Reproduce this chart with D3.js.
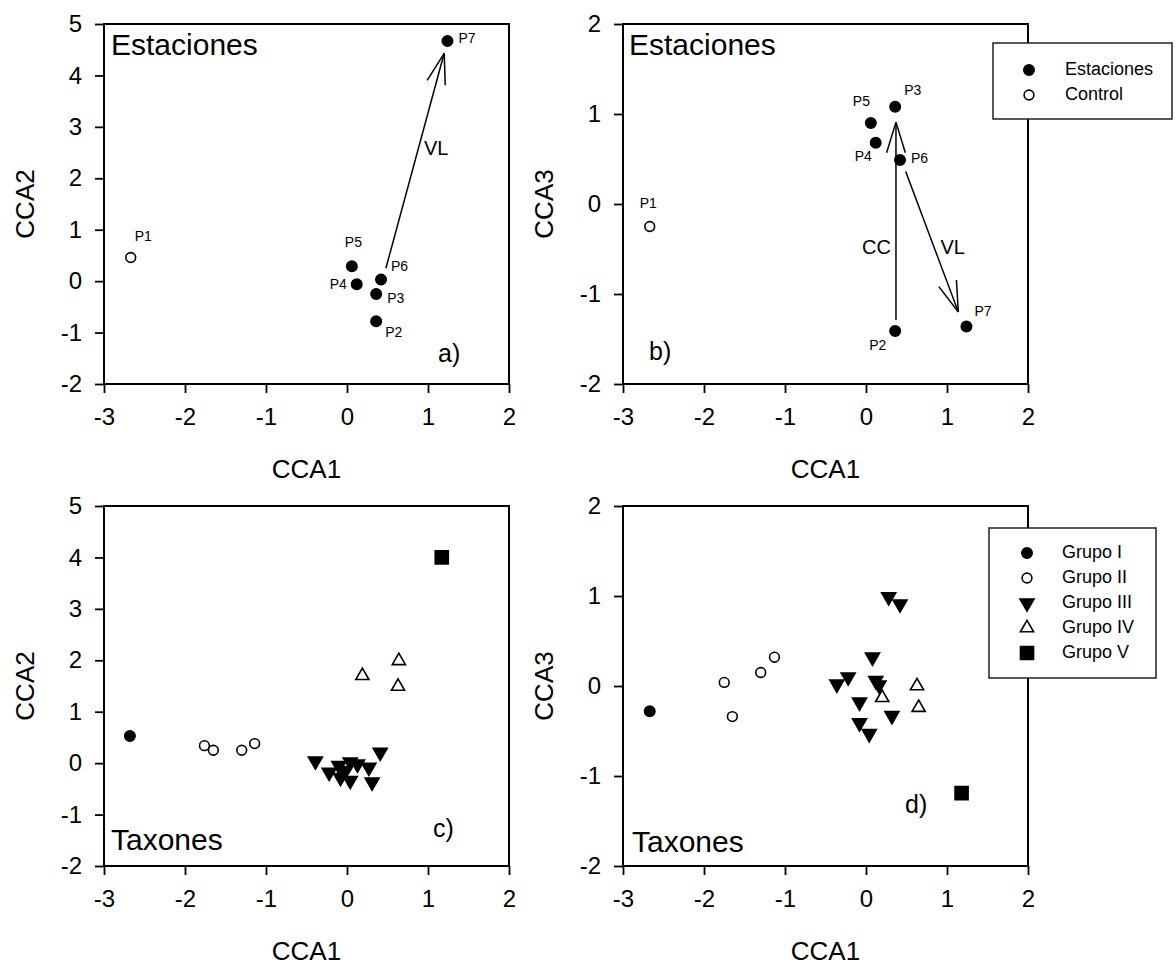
<!DOCTYPE html>
<html>
<head>
<meta charset="utf-8">
<script src="https://cdn.jsdelivr.net/npm/d3@7"></script>
<style>
  body { margin: 0; background: #fff; }
  text { font-family: Arial, "Liberation Sans", sans-serif; fill: #000; }
</style>
</head>
<body>
<svg width="1176" height="968"></svg>
<script>
// stations
const stationNames = ["P1", "P2", "P3", "P4", "P5", "P6", "P7"]
const stationKind = ["Control", "Estaciones", "Estaciones", "Estaciones", "Estaciones", "Estaciones", "Estaciones"]
const stationCCA1 = [-2.67, 0.36, 0.36, 0.12, 0.06, 0.42, 1.24]
const stationCCA2 = [0.46, -0.78, -0.25, -0.06, 0.29, 0.03, 4.67]
const stationCCA3 = [-0.25, -1.41, 1.08, 0.68, 0.90, 0.49, -1.36]

// environmental arrows [name, fromX, fromY, toX, toY]
const arrowsCCA2 = [["VL", 0.48, 0.25, 1.20, 4.43]]
const arrowsCCA3 = [["CC", 0.37, -1.29, 0.37, 0.91], ["VL", 0.49, 0.36, 1.14, -1.20]]

// taxa groups
const groupNames = ["Grupo I", "Grupo II", "Grupo III", "Grupo IV", "Grupo V"]
const taxaCCA2 = [
  [[-2.68, 0.53]],
  [[-1.76, 0.34], [-1.65, 0.25], [-1.30, 0.25], [-1.14, 0.38]],
  [[-0.39, 0.04], [-0.22, -0.18], [-0.10, -0.05], [-0.08, -0.28], [0.04, -0.34], [0.04, 0.02],
   [0.13, -0.02], [0.27, -0.08], [0.31, -0.37], [0.41, 0.21], [-0.02, -0.15]],
  [[0.19, 1.70], [0.64, 1.99], [0.63, 1.49]],
  [[1.17, 4.0]]
]
const taxaCCA3 = [
  [[-2.67, -0.28]],
  [[-1.75, 0.04], [-1.65, -0.34], [-1.30, 0.15], [-1.13, 0.32]],
  [[0.28, 0.99], [0.42, 0.91], [0.08, 0.32], [-0.22, 0.10], [-0.36, 0.02], [0.12, 0.06],
   [0.16, 0.01], [-0.08, -0.18], [0.32, -0.33], [-0.08, -0.41], [0.04, -0.53]],
  [[0.20, -0.13], [0.63, 0.0], [0.65, -0.24]],
  [[1.18, -1.19]]
]

const xTicks = [-3, -2, -1, 0, 1, 2]
const cca2Ticks = [-2, -1, 0, 1, 2, 3, 4, 5]
const cca3Ticks = [-2, -1, 0, 1, 2]

// label offsets (px, relative to marker)
const labelOffsetA = [[4, -20], [9, 12], [11, 5], [-27, 1], [-7, -23], [10, -12], [11, -2]]
const labelOffsetB = [[-10, -22], [-26, 15], [9, -16], [-21, 14], [-18, -21], [11, -1], [8, -14]]

const svg = d3.select("svg")
const PW = 405, PH = 360

const markerStyles = [
  { type: d3.symbolCircle, size: 85, fill: "#000", rot: 0 },
  { type: d3.symbolCircle, size: 75, fill: "#fff", rot: 0 },
  { type: d3.symbolTriangle, size: 85, fill: "#000", rot: 180 },
  { type: d3.symbolTriangle, size: 75, fill: "#fff", rot: 0 },
  { type: d3.symbolSquare, size: 170, fill: "#000", rot: 0 }
]

const drawMarker = (g, style, x, y) => {
  g.append("path")
    .attr("d", d3.symbol().type(style.type).size(style.size)())
    .attr("transform", `translate(${x},${y}) rotate(${style.rot})`)
    .attr("fill", style.fill)
    .attr("stroke", "#000")
    .attr("stroke-width", 1.6)
}

const tickFmt = (d) => String(d)

const makePanel = (left, top, yDomain, yTicks, yTitle) => {
  const g = svg.append("g").attr("transform", `translate(${left},${top})`)
  const x = d3.scaleLinear().domain([-3, 2]).range([0, PW])
  const y = d3.scaleLinear().domain(yDomain).range([PH, 0])

  const xAxis = g.append("g").attr("transform", `translate(0,${PH})`)
    .call(d3.axisBottom(x).tickValues(xTicks).tickFormat(tickFmt)
      .tickSize(9).tickSizeOuter(0).tickPadding(15))
  const yAxis = g.append("g")
    .call(d3.axisLeft(y).tickValues(yTicks).tickFormat(tickFmt)
      .tickSize(9).tickSizeOuter(0).tickPadding(13))
  ;[xAxis, yAxis].forEach((a) => {
    a.select(".domain").remove()
    a.selectAll("line").attr("stroke", "#000").attr("stroke-width", 1.8)
    a.selectAll("text").style("font-size", "24px").attr("fill", "#000")
  })

  g.append("rect").attr("width", PW).attr("height", PH)
    .attr("fill", "none").attr("stroke", "#000").attr("stroke-width", 2)

  g.append("text").attr("x", PW / 2).attr("y", PH + 94)
    .attr("text-anchor", "middle").style("font-size", "26px").text("CCA1")
  g.append("text").attr("transform", `translate(-70,${PH / 2}) rotate(-90)`)
    .attr("text-anchor", "middle").style("font-size", "26px").text(yTitle)
  return { g, x, y }
}

const drawArrow = (g, x1, y1, x2, y2) => {
  g.append("line").attr("x1", x1).attr("y1", y1).attr("x2", x2).attr("y2", y2)
    .attr("stroke", "#000").attr("stroke-width", 1.5)
  const ang = Math.atan2(y1 - y2, x1 - x2)
  const len = 32, spread = 17 * Math.PI / 180
  ;[-spread, spread].forEach((s) => {
    g.append("line").attr("x1", x2).attr("y1", y2)
      .attr("x2", x2 + len * Math.cos(ang + s)).attr("y2", y2 + len * Math.sin(ang + s))
      .attr("stroke", "#000").attr("stroke-width", 1.5)
  })
}

const drawStations = (panel, yValues, arrows, offsets) => {
  const { g, x, y } = panel
  arrows.forEach(([name, fx, fy, tx, ty]) => {
    drawArrow(g, x(fx), y(fy), x(tx), y(ty))
  })
  stationNames.forEach((name, i) => {
    const style = stationKind[i] === "Control" ? markerStyles[1] : markerStyles[0]
    const px = x(stationCCA1[i]), py = y(yValues[i])
    drawMarker(g, style, px, py)
    g.append("text").attr("x", px + offsets[i][0]).attr("y", py + offsets[i][1])
      .attr("dominant-baseline", "middle").style("font-size", "14px").text(name)
  })
}

const drawTaxa = (panel, groups) => {
  const { g, x, y } = panel
  groups.forEach((pts, gi) => {
    pts.forEach(([cx, cy]) => drawMarker(g, markerStyles[gi], x(cx), y(cy)))
  })
}

// a)
const pa = makePanel(104, 24, [-2, 5], cca2Ticks, "CCA2")
drawStations(pa, stationCCA2, arrowsCCA2, labelOffsetA)
pa.g.append("text").attr("x", 7).attr("y", 31).style("font-size", "30px").text("Estaciones")
pa.g.append("text").attr("x", 334).attr("y", 338).style("font-size", "25px").text("a)")
pa.g.append("text").attr("x", pa.x(0.95)).attr("y", pa.y(2.45)).style("font-size", "20px").text("VL")

// b)
const pb = makePanel(623, 24, [-2, 2], cca3Ticks, "CCA3")
drawStations(pb, stationCCA3, arrowsCCA3, labelOffsetB)
pb.g.append("text").attr("x", 6).attr("y", 31).style("font-size", "30px").text("Estaciones")
pb.g.append("text").attr("x", 26).attr("y", 336).style("font-size", "25px").text("b)")
pb.g.append("text").attr("x", pb.x(-0.05)).attr("y", pb.y(-0.55)).style("font-size", "20px").text("CC")
pb.g.append("text").attr("x", pb.x(0.92)).attr("y", pb.y(-0.55)).style("font-size", "20px").text("VL")

// c)
const pc = makePanel(104, 506, [-2, 5], cca2Ticks, "CCA2")
drawTaxa(pc, taxaCCA2)
pc.g.append("text").attr("x", 7).attr("y", 344).style("font-size", "30px").text("Taxones")
pc.g.append("text").attr("x", 329).attr("y", 331).style("font-size", "25px").text("c)")

// d)
const pd = makePanel(623, 506, [-2, 2], cca3Ticks, "CCA3")
drawTaxa(pd, taxaCCA3)
pd.g.append("text").attr("x", 9).attr("y", 346).style("font-size", "30px").text("Taxones")
pd.g.append("text").attr("x", 282).attr("y", 307).style("font-size", "25px").text("d)")

// legends
const drawLegend = (left, top, w, h, items, styles, y0, step, symX, textX) => {
  const lg = svg.append("g").attr("transform", `translate(${left},${top})`)
  lg.append("rect").attr("width", w).attr("height", h)
    .attr("fill", "#fff").attr("stroke", "#222").attr("stroke-width", 1.5)
  items.forEach((name, i) => {
    drawMarker(lg, styles[i], symX, y0 + i * step)
    lg.append("text").attr("x", textX).attr("y", y0 + i * step)
      .attr("dominant-baseline", "middle").style("font-size", "18px").text(name)
  })
}
drawLegend(993, 43, 179, 76, ["Estaciones", "Control"], [markerStyles[0], markerStyles[1]], 27, 25, 36, 72)
drawLegend(989, 528, 167, 150, groupNames, markerStyles, 25, 25, 38, 73)
</script>
</body>
</html>
